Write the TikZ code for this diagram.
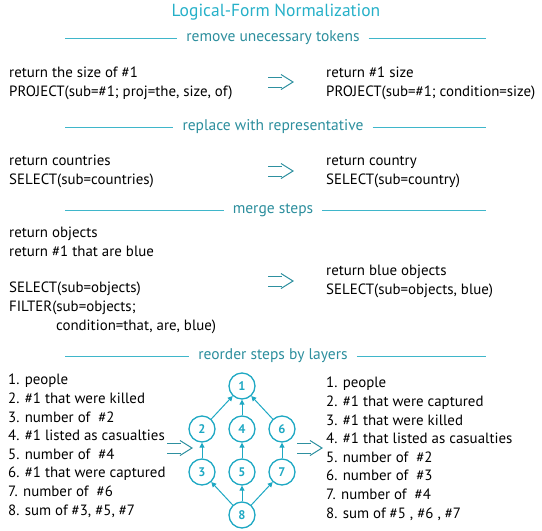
\documentclass[tikz,border=0pt]{standalone}
\usepackage{fontspec}
\setmainfont{PT Sans}
\usetikzlibrary{arrows.meta}

\definecolor{titleblue}{HTML}{25B0C8}
\definecolor{headteal}{HTML}{2C8E9D}
\definecolor{ruleblue}{HTML}{3FB6CA}
\definecolor{stepblue}{HTML}{1EA8C3}
\definecolor{arrowteal}{HTML}{2E90A0}

\tikzset{
  title/.style={font=\fontsize{17.5}{20}\selectfont, text=titleblue, inner sep=0pt},
  heading/.style={font=\fontsize{15.5}{18}\selectfont, text=headteal, inner xsep=9pt, inner ysep=0pt},
  headrule/.style={draw=ruleblue, line width=1pt},
  body/.style={font=\fontsize{14.9}{18.6}\selectfont, align=left, inner sep=0pt, anchor=base west},
  stepnode/.style={circle, draw=stepblue, line width=1.3pt, minimum size=26pt, inner sep=0pt,
    text=stepblue, font=\bfseries\fontsize{12.5}{14}\selectfont},
  stepedge/.style={draw=stepblue, line width=1pt, -{Triangle[length=5pt, width=5pt]}},
  rewrite/.pic={
    \draw[draw=arrowteal, line width=1pt] (0,-5) -- (14,-5) (0,5) -- (14,5);
    \draw[draw=arrowteal, line width=1pt, line join=miter] (13,-7.5) -- (25,0) -- (13,7.5);
  },
}

\begin{document}
\begin{tikzpicture}[x=1pt, y=-1pt]
    \useasboundingbox (0,0) rectangle (542,531);
    \node[title, anchor=base] (title) at (276,16) {Logical-Form Normalization};

    % remove tokens
    \node[heading] (h1) at (273,38) {remove unecessary tokens};
    \coordinate (h1l) at (65,38);
    \coordinate (h1r) at (486,38);
    \draw[headrule] (h1l) -- (h1.west);
    \draw[headrule] (h1.east) -- (h1r);
    \node[body] (b1l) at (9,96) {return the size of \#1\\PROJECT(sub=\#1; proj=the, size, of)};
    \node[body] (b1r) at (326,96) {return \#1 size\\PROJECT(sub=\#1; condition=size)};
    \coordinate (a1) at (268,82);
    \pic at (a1) {rewrite};

    % representative
    \node[heading] (h2) at (273,127) {replace with representative};
    \coordinate (h2l) at (65,127);
    \coordinate (h2r) at (486,127);
    \draw[headrule] (h2l) -- (h2.west);
    \draw[headrule] (h2.east) -- (h2r);
    \node[body] (b2l) at (9,184) {return countries\\SELECT(sub=countries)};
    \node[body] (b2r) at (326,184) {return country\\SELECT(sub=country)};
    \coordinate (a2) at (268,171);
    \pic at (a2) {rewrite};

    % merge
    \node[heading] (h3) at (273,210) {merge steps};
    \coordinate (h3l) at (65,210);
    \coordinate (h3r) at (486,210);
    \draw[headrule] (h3l) -- (h3.west);
    \draw[headrule] (h3.east) -- (h3r);
    \node[body] (b3l) at (9,256) {return objects\\return \#1 that are blue};
    \node[body] (b3c) at (9,330) {SELECT(sub=objects)\\FILTER(sub=objects;\\\hspace*{47pt}condition=that, are, blue)};
    \node[body] (b3r) at (326,294) {return blue objects\\SELECT(sub=objects, blue)};
    \coordinate (a3) at (268,281);
    \pic at (a3) {rewrite};

    % layers
    \node[heading] (h4) at (273,356) {reorder steps by layers};
    \coordinate (h4l) at (65,356);
    \coordinate (h4r) at (486,356);
    \draw[headrule] (h4l) -- (h4.west);
    \draw[headrule] (h4.east) -- (h4r);
    \node[body] (l4l) at (8,515) {1. people\\2. \#1 that were killed\\3. number of~~\#2\\4. \#1 listed as casualties\\5. number of~~\#4\\6. \#1 that were captured\\7. number of~~\#6\\8. sum of \#3, \#5, \#7};
    \node[body] (l4r) at (326,518) {1. people\\2. \#1 that were captured\\3. \#1 that were killed\\4. \#1 that listed as casualties\\5. number of~~\#2\\6. number of~~\#3\\7. number of~~\#4\\8. sum of \#5 , \#6 , \#7};

    \node[stepnode] (s1) at (242,386) {1};
    \node[stepnode] (s2) at (202,429) {2};
    \node[stepnode] (s4) at (242,429) {4};
    \node[stepnode] (s6) at (282,429) {6};
    \node[stepnode] (s3) at (202,472) {3};
    \node[stepnode] (s5) at (242,472) {5};
    \node[stepnode] (s7) at (282,472) {7};
    \node[stepnode] (s8) at (242,515) {8};
    \foreach \a/\b in {3/2, 5/4, 7/6, 2/1, 4/1, 6/1, 8/3, 8/5, 8/7}
        \draw[stepedge] (s\a) -- (s\b);

    \coordinate (a4) at (167,448);
    \pic at (a4) {rewrite};
    \coordinate (a5) at (297,448);
    \pic at (a5) {rewrite};
\end{tikzpicture}
\end{document}
